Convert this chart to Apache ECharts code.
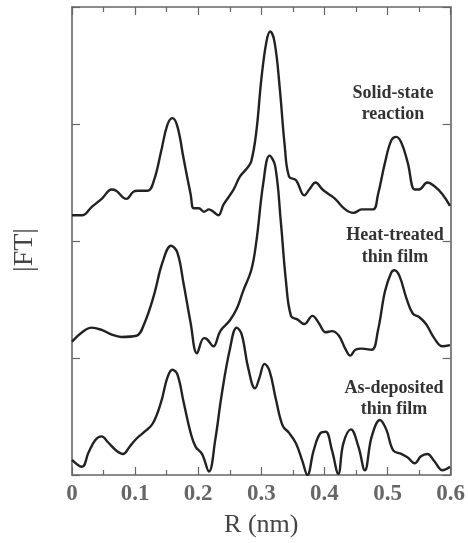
<!DOCTYPE html>
<html>
<head>
<meta charset="utf-8">
<script src="https://cdn.jsdelivr.net/npm/echarts@6/dist/echarts.min.js"></script>
<style>
  html, body { margin: 0; padding: 0; background: #fff; }
  #main { width: 468px; height: 543px; }
</style>
</head>
<body>
<div id="main"></div>
<script>
// R (nm) and |FT|, three curves offset vertically
var xTicks = [0, 0.1, 0.2, 0.3, 0.4, 0.5, 0.6];

var solidR = [0.0, 0.016, 0.031, 0.047, 0.063, 0.070, 0.086, 0.097, 0.104, 0.120, 0.130, 0.141, 0.151, 0.159, 0.167, 0.177, 0.188, 0.193, 0.201, 0.209, 0.217, 0.224, 0.232, 0.240, 0.256, 0.266, 0.277, 0.284, 0.292, 0.300, 0.308, 0.314, 0.321, 0.329, 0.337, 0.344, 0.355, 0.368, 0.376, 0.386, 0.397, 0.407, 0.417, 0.433, 0.446, 0.459, 0.477, 0.485, 0.496, 0.506, 0.514, 0.522, 0.532, 0.543, 0.550, 0.563, 0.574, 0.587, 0.599];
var solidFT = [2.22, 2.22, 2.29, 2.36, 2.44, 2.43, 2.36, 2.42, 2.43, 2.43, 2.52, 2.76, 2.99, 3.05, 2.98, 2.70, 2.40, 2.28, 2.28, 2.25, 2.27, 2.25, 2.22, 2.31, 2.44, 2.55, 2.62, 2.68, 2.93, 3.38, 3.70, 3.79, 3.70, 3.32, 2.82, 2.55, 2.52, 2.39, 2.44, 2.50, 2.44, 2.40, 2.36, 2.27, 2.24, 2.27, 2.27, 2.40, 2.67, 2.86, 2.89, 2.84, 2.67, 2.44, 2.44, 2.50, 2.47, 2.40, 2.30];

var heatR = [0.0, 0.016, 0.031, 0.047, 0.063, 0.078, 0.102, 0.115, 0.130, 0.143, 0.157, 0.167, 0.177, 0.188, 0.198, 0.209, 0.214, 0.224, 0.235, 0.250, 0.261, 0.271, 0.284, 0.292, 0.303, 0.313, 0.322, 0.331, 0.339, 0.347, 0.357, 0.368, 0.381, 0.391, 0.402, 0.412, 0.423, 0.433, 0.441, 0.449, 0.459, 0.475, 0.485, 0.496, 0.506, 0.511, 0.519, 0.530, 0.540, 0.550, 0.561, 0.574, 0.587, 0.599];
var heatFT = [1.14, 1.22, 1.26, 1.24, 1.20, 1.18, 1.19, 1.30, 1.54, 1.81, 1.96, 1.90, 1.63, 1.30, 1.04, 1.17, 1.16, 1.10, 1.23, 1.32, 1.42, 1.57, 1.75, 1.99, 2.49, 2.73, 2.64, 2.16, 1.66, 1.36, 1.33, 1.29, 1.36, 1.30, 1.22, 1.23, 1.19, 1.08, 1.02, 1.07, 1.08, 1.07, 1.24, 1.57, 1.73, 1.75, 1.70, 1.51, 1.38, 1.35, 1.29, 1.17, 1.10, 1.11];

var asdepR = [0.0, 0.016, 0.026, 0.037, 0.047, 0.057, 0.070, 0.081, 0.091, 0.102, 0.115, 0.128, 0.141, 0.151, 0.159, 0.167, 0.177, 0.188, 0.196, 0.206, 0.217, 0.227, 0.237, 0.250, 0.261, 0.269, 0.279, 0.290, 0.297, 0.305, 0.313, 0.323, 0.334, 0.344, 0.355, 0.365, 0.373, 0.383, 0.394, 0.402, 0.412, 0.422, 0.430, 0.442, 0.454, 0.464, 0.475, 0.488, 0.498, 0.509, 0.522, 0.532, 0.543, 0.553, 0.563, 0.574, 0.587, 0.599];
var asdepFT = [0.13, 0.07, 0.19, 0.30, 0.33, 0.28, 0.21, 0.18, 0.24, 0.31, 0.37, 0.44, 0.62, 0.83, 0.90, 0.86, 0.62, 0.36, 0.24, 0.18, 0.03, 0.30, 0.68, 1.07, 1.26, 1.20, 0.92, 0.74, 0.83, 0.95, 0.89, 0.65, 0.42, 0.36, 0.27, 0.12, 0.0, 0.21, 0.36, 0.37, 0.21, 0.01, 0.27, 0.39, 0.24, 0.04, 0.33, 0.47, 0.39, 0.21, 0.18, 0.15, 0.10, 0.16, 0.18, 0.12, 0.04, 0.07];

function pairs(xs, ys) {
    var out = [];
    for (var i = 0; i < xs.length; i++) {
        out.push([xs[i], ys[i]]);
    }
    return out;
}

var chartDom = document.getElementById('main');
var myChart = echarts.init(chartDom);

var axisColor = '#666';
var serif = '"Liberation Serif", "DejaVu Serif", serif';

function lineSeries(name, data) {
    return {
        name: name,
        type: 'line',
        data: data,
        smooth: 0.4,
        symbol: 'none',
        lineStyle: { color: '#222', width: 2.4 }
    };
}

// shared x axis look (bottom one has labels, top one is only the frame)
function xAxisBase(pos) {
    return {
        type: 'value', min: 0, max: 0.6, interval: 0.1, position: pos,
        axisLine: { onZero: false, lineStyle: { color: axisColor, width: 1.6 } },
        axisTick: { inside: true, length: 8, lineStyle: { color: axisColor, width: 1.2 } },
        minorTick: { show: true, splitNumber: 2, length: 5, lineStyle: { color: axisColor, width: 1.2 } },
        splitLine: { show: false },
        axisLabel: { show: false }
    };
}
function yAxisBase(pos) {
    return {
        type: 'value', min: 0, max: 4, interval: 1, position: pos,
        axisLine: { show: true, onZero: false, lineStyle: { color: axisColor, width: 1.6 } },
        axisTick: { inside: true, length: 8, lineStyle: { color: axisColor, width: 1.2 } },
        splitLine: { show: false },
        axisLabel: { show: false }
    };
}

var xBottom = xAxisBase('bottom');
xBottom.name = 'R (nm)';
xBottom.nameLocation = 'middle';
xBottom.nameGap = 37;
xBottom.nameTextStyle = { fontFamily: serif, fontSize: 26, color: '#444' };
xBottom.axisLabel = {
    show: true, margin: 8, fontFamily: serif, fontSize: 23, fontWeight: 'bold', color: '#666',
    formatter: function (v) {
        var idx = Math.round(v * 10);
        return xTicks[idx] === undefined ? '' : String(xTicks[idx]);
    }
};

var yLeft = yAxisBase('left');
yLeft.name = '|FT|';
yLeft.nameLocation = 'middle';
yLeft.nameGap = 33;
yLeft.nameRotate = 90;
yLeft.nameTextStyle = { fontFamily: serif, fontSize: 28, color: '#444', padding: [0, 18, 0, 0] };

var labelFont = 'bold 18px ' + serif;

var option = {
    animation: false,
    grid: { left: 72, right: 15, top: 7, bottom: 68 },
    xAxis: [xBottom, xAxisBase('top')],
    yAxis: [yLeft, yAxisBase('right')],
    graphic: [
        { type: 'text', x: 393, y: 104, style: { text: 'Solid-state\nreaction', font: labelFont, fill: '#333', align: 'center', verticalAlign: 'middle', lineHeight: 21 } },
        { type: 'text', x: 395, y: 246, style: { text: 'Heat-treated\nthin film', font: labelFont, fill: '#333', align: 'center', verticalAlign: 'middle', lineHeight: 22 } },
        { type: 'text', x: 394, y: 399, style: { text: 'As-deposited\nthin film', font: labelFont, fill: '#333', align: 'center', verticalAlign: 'middle', lineHeight: 21 } }
    ],
    series: [
        lineSeries('Solid-state reaction', pairs(solidR, solidFT)),
        lineSeries('Heat-treated thin film', pairs(heatR, heatFT)),
        lineSeries('As-deposited thin film', pairs(asdepR, asdepFT))
    ]
};

option && myChart.setOption(option);
</script>
</body>
</html>
